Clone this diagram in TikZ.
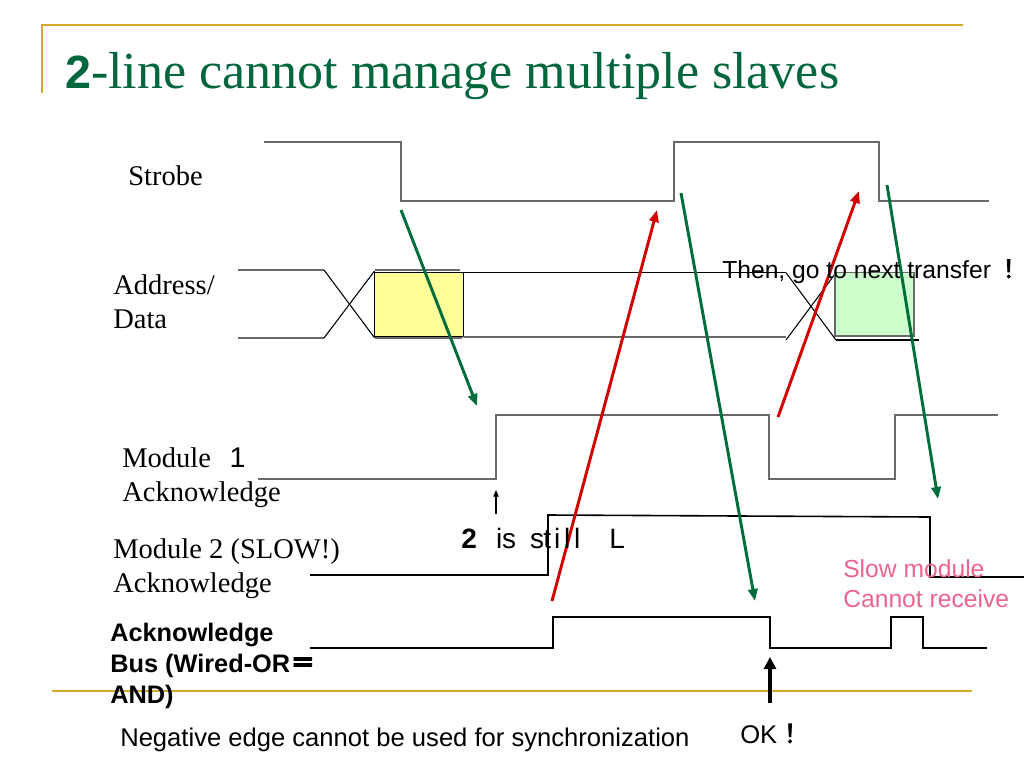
\documentclass[tikz,border=0pt]{standalone}
\usepackage{fontspec}
\usepackage{graphicx}
\setmainfont{Liberation Serif}
\setsansfont{Liberation Sans}
\newfontfamily\cjk{Noto Sans CJK JP}
\newfontfamily\cjkb[FakeBold=3]{Noto Sans CJK JP}
\usetikzlibrary{arrows.meta}
\definecolor{titlegreen}{RGB}{0,102,60}
\definecolor{gold}{RGB}{212,168,40}
\definecolor{siggray}{RGB}{105,105,105}
\definecolor{arrgreen}{RGB}{0,110,60}
\definecolor{arrred}{RGB}{210,0,0}
\definecolor{slowpink}{RGB}{236,100,140}
\definecolor{boxyellow}{RGB}{255,255,153}
\definecolor{boxgreen}{RGB}{204,255,204}
\newcommand\cb[1]{\makebox[7.5pt]{#1}}
\begin{document}
\begin{tikzpicture}[x=0.75pt,y=-0.75pt,
  rule/.style={draw=gold,line width=2.2pt},
  sig/.style={draw=siggray,line width=1.4pt},
  sigk/.style={draw=black,line width=1.2pt},
  thinline/.style={draw=black,line width=0.8pt},
  garrow/.style={draw=arrgreen,line width=2.2pt,-{Triangle[length=9pt,width=7pt]}},
  rarrow/.style={draw=arrred,line width=2.2pt,-{Triangle[length=9pt,width=7pt]}},
  lbl/.style={anchor=base west,inner sep=0pt,align=left,font=\fontsize{21.4}{25.5}\selectfont},
  albl/.style={anchor=base west,inner sep=0pt,align=left,font=\sffamily\fontsize{18.5}{23}\selectfont},
]
\useasboundingbox (0,0) rectangle (1024,768);
% frame
\draw[rule] (42,93) -- (42,25) -- (963,25);
\draw[rule] (52,691) -- (972,691);
% title
\node[anchor=base west,inner sep=0pt,text=titlegreen] (title) at (65,88)
  {{\sffamily\bfseries\fontsize{35}{35}\selectfont 2}{\fontsize{39}{40}\selectfont -line cannot manage multiple slaves}};
% labels (base = baseline of last line)
\node[lbl] (strobe) at (128,185) {Strobe};
\node[lbl] (addr) at (113,328) {Address/\\Data};
\node[lbl] (m1) at (122,501) {Module\hspace{14pt}{\sffamily 1}\\Acknowledge};
\node[lbl] (m2) at (113,592) {Module 2 (SLOW!)\\Acknowledge};
\node[albl,font=\sffamily\bfseries\fontsize{19}{23.25}\selectfont] (bus) at (110,703) {Acknowledge\\Bus (Wired-OR{\cjkb ＝}\\AND)};
% strobe
\draw[sig] (264,142) -- (401,142) -- (401,201) -- (674,201) -- (674,142) -- (879,142) -- (879,201) -- (989,201);
% address / data
\draw[thinline,fill=boxyellow] (374.5,272.7) rectangle (463.3,336.7);
\draw[sig] (238,270) -- (324,270);
\draw[sig] (238,338) -- (324,338);
\draw[thinline] (324,270) -- (374.5,337.7);
\draw[thinline] (324,338) -- (374.5,271);
\draw[sig] (374.5,270) -- (460,270);
\draw[sig] (374.5,338) -- (462,338);
\draw[thinline] (463.3,272.7) -- (786,272.7);
\draw[sig] (463.3,336.7) -- (786,336.7);
\draw[thinline] (786,272.7) -- (836,340);
\draw[thinline] (786,340) -- (836,272.7);
\draw[draw=siggray,line width=0.8pt,fill=boxgreen] (835,272.7) rectangle (914,336);
\draw[thinline] (836,340) -- (919,340);
% module 1
\draw[sig] (258,479) -- (496,479) -- (496,415) -- (769,415) -- (769,479) -- (895,479) -- (895,415) -- (998,415);
% module 2
\draw[sigk] (310,575) -- (548,575) -- (548,515) -- (930,517) -- (930,577) -- (1024,577);
% ack bus
\draw[sigk] (310,648) -- (553,648) -- (553,617) -- (770,617) -- (770,648) -- (891,648) -- (891,617) -- (923,617) -- (923,648) -- (987,648);
% arrow end points
\coordinate (g1s) at (401,210); \coordinate (g1e) at (477,406);
\coordinate (r1s) at (552,601); \coordinate (r1e) at (657,210);
\coordinate (g2s) at (681,193); \coordinate (g2e) at (755,601);
\coordinate (r2s) at (778,417); \coordinate (r2e) at (859,191);
\coordinate (g3s) at (887,185); \coordinate (g3e) at (938,499);
\draw[garrow] (g1s) -- (g1e);
\draw[rarrow] (r1s) -- (r1e);
\draw[garrow] (g2s) -- (g2e);
\draw[rarrow] (r2s) -- (r2e);
\draw[garrow] (g3s) -- (g3e);
% small arrow
\coordinate (sa1) at (496,514); \coordinate (sa2) at (496,490);
\draw[thinline,-{Triangle[length=5pt,width=4pt]}] (sa1) -- (sa2);
% big arrow
\coordinate (ba1) at (770,703); \coordinate (ba2) at (770,657);
\draw[line width=2.3pt,-{Triangle[length=9pt,width=9pt]}] (ba1) -- (ba2);
% texts
\node[anchor=base west,inner sep=0pt,font=\sffamily\fontsize{21}{21}\selectfont] (still) at (461,548)
  {\textbf{2}\hspace{13pt}\cb{i}\cb{s}\hspace{13.5pt}\cb{s}\cb{t}\cb{i}\cb{l}\cb{l}\hspace{22.5pt}\cb{L}};
\node[albl] (then) at (722,278) {Then, go to next transfer\hspace{4pt}{\cjkb ！}};
\node[albl,text=slowpink,font=\sffamily\fontsize{18.5}{22.5}\selectfont] (slow) at (843,607) {Slow module\\Cannot receive};
\node[albl,font=\sffamily\fontsize{19.2}{23}\selectfont] (neg) at (120,746) {Negative edge cannot be used for synchronization};
\node[albl,font=\sffamily\fontsize{19.2}{23}\selectfont] (ok) at (740,743) {OK{\cjkb ！}};
\end{tikzpicture}
\end{document}
